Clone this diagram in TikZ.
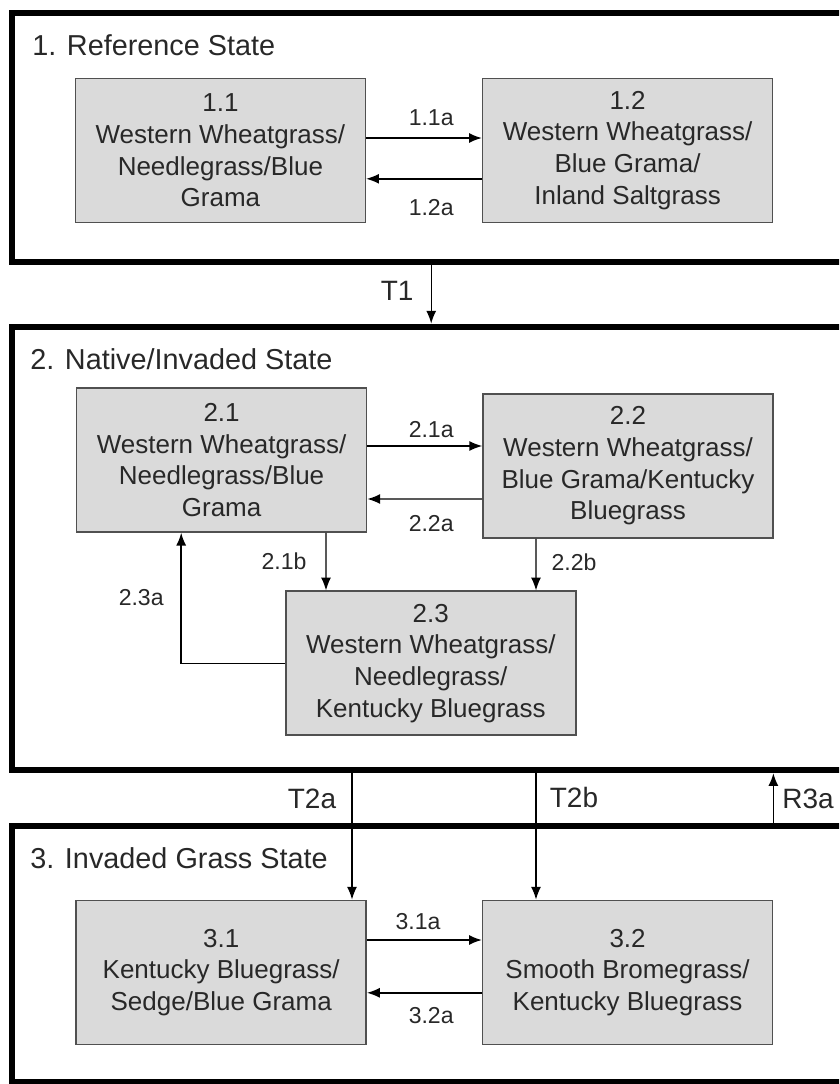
\documentclass[tikz,border=0pt]{standalone}
\usepackage{fontspec}
\setmainfont{Liberation Sans}
\usepackage{xcolor}
\usepackage{tikz}
\usetikzlibrary{arrows.meta, positioning, calc}
\definecolor{boxgray}{RGB}{218, 218, 218}
\definecolor{edgegray}{RGB}{80, 80, 80}
\definecolor{inkgray}{RGB}{40, 40, 40}

\begin{document}
\begin{tikzpicture}[
  statebox/.style={draw=black, line width=4.5pt, minimum width=21.45cm, inner sep=0pt},
  phasebox/.style={draw=edgegray, fill=boxgray, line width=1.1pt, minimum width=7.25cm, minimum height=3.6cm, align=center, text=inkgray, inner sep=0pt, font=\fontsize{18.5}{22.5}\selectfont},
  statetitle/.style={anchor=west, inner sep=0pt, text=inkgray, font=\fontsize{20.5}{24}\selectfont},
  pathlabel/.style={inner sep=0pt, text=inkgray, font=\fontsize{16.4}{19}\selectfont},
  translabel/.style={inner sep=0pt, text=inkgray, font=\fontsize{19.9}{23}\selectfont},
  arrow/.style={-{Latex[length=3.2mm, width=2.5mm]}, line width=1pt, black}
]
\useasboundingbox (0, 0) rectangle (20.975, -27.1);
\clip (0, 0) rectangle (20.975, -27.1);

% State containers
\node[statebox, minimum height=6.23cm] (state1) at (11.03, -3.44) {};
\node[statebox, minimum height=11.08cm] (state2) at (11.03, -13.71) {};
\node[statebox, minimum height=6.4cm] (state3) at (11.03, -23.85) {};

\node[statetitle] (title1) at (0.8, -1.13) {1. Reference State};
\node[statetitle] (title2) at (0.75, -8.98) {2. Native/Invaded State};
\node[statetitle] (title3) at (0.75, -21.45) {3. Invaded Grass State};

% Reference State
\node[phasebox] (b11) at (5.51, -3.76) {1.1\\Western Wheatgrass/\\Needlegrass/Blue\\Grama};
\node[phasebox] (b12) at (15.69, -3.76) {1.2\\Western Wheatgrass/\\Blue Grama/\\Inland Saltgrass};

\draw[arrow] ($(b11.east)+(0, 0.31)$) -- ($(b12.west)+(0, 0.31)$);
\draw[arrow] ($(b12.west)+(0, -0.71)$) -- ($(b11.east)+(0, -0.71)$);
\node[pathlabel] (l11a) at (10.78, -2.95) {1.1a};
\node[pathlabel] (l12a) at (10.78, -5.18) {1.2a};

% T1
\coordinate (t1x) at (10.78, 0);
\draw[arrow] (state1.south -| t1x) -- (state2.north -| t1x);
\node[translabel] (lT1) at (9.93, -7.28) {T1};

% Native/Invaded State
\node[phasebox] (b21) at (5.54, -11.5) {2.1\\Western Wheatgrass/\\Needlegrass/Blue\\Grama};
\node[phasebox] (b22) at (15.7, -11.65) {2.2\\Western Wheatgrass/\\Blue Grama/Kentucky\\Bluegrass};
\node[phasebox] (b23) at (10.77, -16.58) {2.3\\Western Wheatgrass/\\Needlegrass/\\Kentucky Bluegrass};

\draw[arrow] ($(b21.east)+(0, 0.35)$) -- ($(b22.west)+(0, 0.5)$);
\draw[arrow] ($(b22.west)+(0, -0.825)$) -- ($(b21.east)+(0, -0.975)$);
\draw[arrow] ($(b21.south)+(2.61, 0)$) -- ($(b23.north)+(-2.62, 0)$);
\draw[arrow] ($(b22.south)+(-2.3, 0)$) -- ($(b23.north)+(2.63, 0)$);
\draw[arrow] (b23.west) -| ($(b21.south)+(-1.01, 0)$);

\node[pathlabel] (l21a) at (10.78, -10.75) {2.1a};
\node[pathlabel] (l22a) at (10.78, -13.1) {2.2a};
\node[pathlabel] (l21b) at (7.1, -14.03) {2.1b};
\node[pathlabel] (l22b) at (14.35, -14.05) {2.2b};
\node[pathlabel] (l23a) at (3.53, -14.93) {2.3a};

% Invaded Grass State
\node[phasebox] (b31) at (5.53, -24.31) {3.1\\Kentucky Bluegrass/\\Sedge/Blue Grama};
\node[phasebox] (b32) at (15.69, -24.31) {3.2\\Smooth Bromegrass/\\Kentucky Bluegrass};

\draw[arrow] ($(b31.east)+(0, 0.81)$) -- ($(b32.west)+(0, 0.81)$);
\draw[arrow] ($(b32.west)+(0, -0.51)$) -- ($(b31.east)+(0, -0.51)$);
\node[pathlabel] (l31a) at (10.45, -23.03) {3.1a};
\node[pathlabel] (l32a) at (10.78, -25.4) {3.2a};

% Transitions between states
\coordinate (t2ahead) at ($(b31.north)+(3.27, 0)$);
\coordinate (t2bhead) at ($(b32.north)+(-2.29, 0)$);
\draw[arrow] (state2.south -| t2ahead) -- (t2ahead);
\draw[arrow] (state2.south -| t2bhead) -- (t2bhead);
\draw[arrow] (state3.north -| b32.east) -- (state2.south -| b32.east);

\node[translabel] (lT2a) at (7.8, -19.98) {T2a};
\node[translabel] (lT2b) at (14.35, -19.93) {T2b};
\node[translabel] (lR3a) at (20.2, -19.98) {R3a};

\end{tikzpicture}
\end{document}
